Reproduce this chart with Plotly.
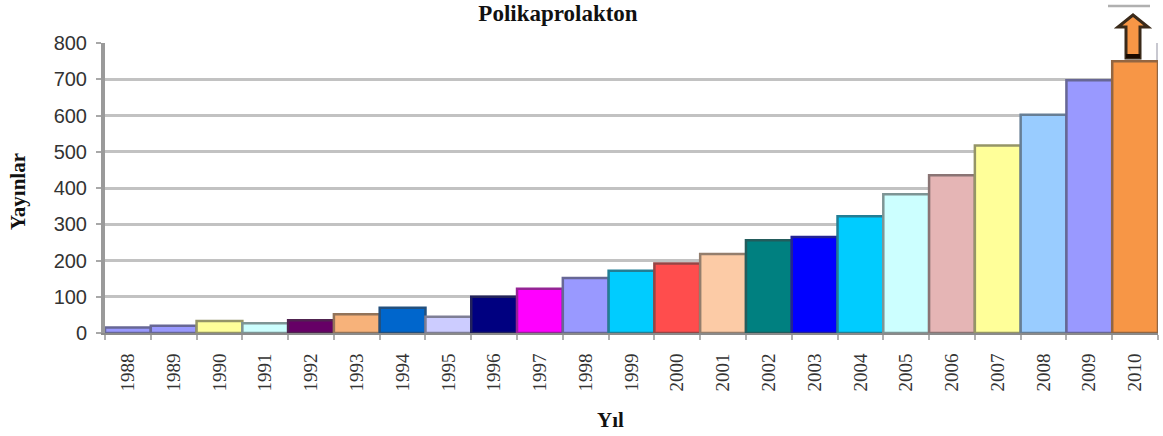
import plotly.graph_objects as go

years = [str(y) for y in range(1988, 2011)]
publications = [15, 20, 33, 27, 35, 52, 70, 45, 100, 122, 152, 172, 192, 218,
                256, 265, 322, 383, 435, 517, 602, 697, 750]
bar_colors = ["#9999ff", "#9999ff", "#ffff99", "#ccffff", "#660066", "#f7b27a",
              "#0066cc", "#ccccff", "#000080", "#ff00ff", "#9999ff", "#00ccff",
              "#ff4d4d", "#fccba6", "#008080", "#0000ff", "#00ccff", "#ccffff",
              "#e5b5b5", "#ffff99", "#99ccff", "#9999ff", "#f79646"]
y_ticks = [0, 100, 200, 300, 400, 500, 600, 700, 800]

WIDTH, HEIGHT = 1163, 436
LEFT, RIGHT, TOP, BOTTOM = 105, 1158, 43, 333
SERIF = "Liberation Serif"


def px(x):
    return (x - LEFT) / (RIGHT - LEFT)


def py(y):
    return (BOTTOM - y) / (BOTTOM - TOP)


def outline(points):
    return "M " + " L ".join(f"{px(x):.5f},{py(y):.5f}" for x, y in points) + " Z"


def edge_color(fill):
    # Bar edges are a darkened shade of the bar's own fill
    r, g, b = (int(fill[i:i + 2], 16) for i in (1, 3, 5))
    return f"rgb({int(r * .45 + 35)},{int(g * .45 + 35)},{int(b * .45 + 35)})"


# Upward arrow on the last bar: the count keeps growing past the axis
arrow = outline([(1133, 15), (1148, 27), (1140, 27), (1140, 58),
                 (1126, 58), (1126, 27), (1118, 27)])
arrow_foot = outline([(1126, 54), (1140, 54), (1140, 58), (1126, 58)])

fig = go.Figure(go.Bar(
    x=years,
    y=publications,
    width=1,
    marker=dict(color=bar_colors,
                line=dict(color=[edge_color(c) for c in bar_colors], width=2.5)),
))

fig.update_layout(
    width=WIDTH,
    height=HEIGHT,
    margin=dict(l=LEFT, r=WIDTH - RIGHT, t=TOP, b=HEIGHT - BOTTOM, autoexpand=False),
    paper_bgcolor="white",
    plot_bgcolor="white",
    showlegend=False,
    title=dict(
        text="<b>Polikaprolakton</b>",
        x=558 / WIDTH, xanchor="center", y=1 - 13 / HEIGHT, yanchor="middle",
        font=dict(family=SERIF, size=23, color="#111111"),
    ),
    xaxis=dict(
        type="category",
        range=[-0.5, 22.5],
        tickangle=-90,
        ticks="outside",
        tickson="boundaries",
        ticklen=5,
        tickwidth=2,
        tickcolor="#b0b0b0",
        ticklabelstandoff=11,
        tickfont=dict(family=SERIF, size=19, color="#333333"),
        showline=True,
        linecolor="#8a8a8a",
        linewidth=2,
        showgrid=False,
    ),
    yaxis=dict(
        range=[0, 800],
        tickvals=y_ticks,
        ticks="outside",
        ticklen=5,
        tickwidth=2,
        tickcolor="#a8a8a8",
        ticklabelstandoff=5,
        tickfont=dict(family="Liberation Sans", size=20, color="#333333"),
        showline=True,
        linecolor="#9a9a9a",
        linewidth=4,
        showgrid=True,
        gridcolor="#c2c2c2",
        gridwidth=2.5,
        zeroline=False,
    ),
    annotations=[
        dict(text="<b>Yıl</b>", xref="paper", yref="paper",
             x=px(610), y=py(420), xanchor="center", yanchor="middle",
             showarrow=False, font=dict(family=SERIF, size=21, color="#111111")),
        dict(text="<b>Yayınlar</b>", xref="paper", yref="paper",
             x=px(18), y=py(192), xanchor="center", yanchor="middle", textangle=-90,
             showarrow=False, font=dict(family=SERIF, size=21, color="#111111")),
    ],
    shapes=[
        # Frame stub closing the plot area above the last bar
        dict(type="line", xref="paper", yref="paper",
             x0=px(1157), x1=px(1157), y0=py(43), y1=py(60),
             line=dict(color="#c8c8d0", width=2)),
        dict(type="path", xref="paper", yref="paper", path=arrow,
             fillcolor="#f79646", line=dict(color="#3a2a1a", width=3)),
        dict(type="path", xref="paper", yref="paper", path=arrow_foot,
             fillcolor="#1a0a00", line=dict(width=0)),
        dict(type="line", xref="paper", yref="paper",
             x0=px(1108), x1=px(1150), y0=py(6), y1=py(6),
             line=dict(color="#b0b0b0", width=2.5)),
    ],
)

fig.write_html("out.html")
